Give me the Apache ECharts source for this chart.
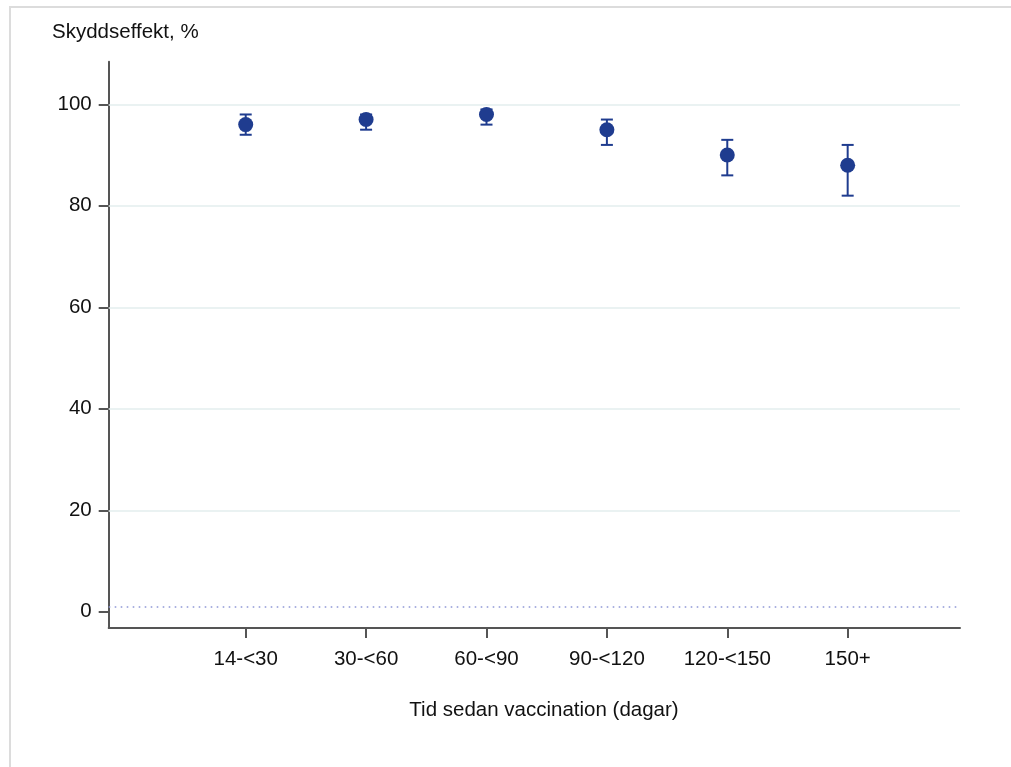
<!DOCTYPE html>
<html>
<head>
<meta charset="utf-8">
<script src="https://cdn.jsdelivr.net/npm/echarts@6/dist/echarts.min.js"></script>
<style>
html,body{margin:0;padding:0;background:#fff;}
#chart{width:1011px;height:767px;}
</style>
</head>
<body>
<div id="chart"></div>
<script>
const categories = ['14-<30', '30-<60', '60-<90', '90-<120', '120-<150', '150+'];
const effect = [96, 97, 98, 95, 90, 88];
const ciLower = [94, 95, 96, 92, 86, 82];
const ciUpper = [98, 98, 99, 97, 93, 92];
const yTicks = [0, 20, 40, 60, 80, 100];
const refLineValue = 1;
const yTitle = 'Skyddseffekt, %';
const xTitle = 'Tid sedan vaccination (dagar)';

const xPos = categories.map((c, i) => i + 1);
const FONT = 'Liberation Sans, Arial, sans-serif';
const MARK = '#1f3c8f';
const TXT = '#111111';

const chart = echarts.init(document.getElementById('chart'), null, {renderer: 'canvas'});

const pointData = effect.map((v, i) => [xPos[i], v]);
const errData = effect.map((v, i) => [xPos[i], ciLower[i], ciUpper[i]]);

const option = {
  animation: false,
  backgroundColor: '#ffffff',
  grid: {left: 108.7, right: 51, top: 61.7, bottom: 139, containLabel: false},
  graphic: [
    {type: 'rect', shape: {x: 10, y: 7, width: 1200, height: 900},
     style: {fill: 'none', stroke: '#dcdcdc', lineWidth: 2}, silent: true, z: -10},
    {type: 'text', left: 52, top: 22,
     style: {text: yTitle, font: '20.5px ' + FONT, fill: TXT}},
    {type: 'text', x: 544, y: 710,
     style: {text: xTitle, font: '20.5px ' + FONT, fill: TXT, align: 'center', verticalAlign: 'middle'}}
  ],
  xAxis: {
    type: 'value', min: -0.138, max: 6.933,
    axisLine: {show: true, onZero: false, lineStyle: {color: '#555', width: 2}},
    axisTick: {show: true, customValues: xPos, length: 10, lineStyle: {color: '#555', width: 2}},
    axisLabel: {customValues: xPos, formatter: v => categories[Math.round(v) - 1] || '',
                margin: 21, fontSize: 20.5, fontFamily: FONT, color: TXT},
    splitLine: {show: false}
  },
  yAxis: {
    type: 'value', min: -3.2, max: 108.4,
    axisLine: {show: true, onZero: false, lineStyle: {color: '#555', width: 2}},
    axisTick: {show: true, customValues: yTicks, length: 10, lineStyle: {color: '#555', width: 2}},
    axisLabel: {customValues: yTicks, margin: 17, fontSize: 20.5, fontFamily: FONT, color: TXT},
    splitLine: {show: false}
  },
  series: [
    {
      type: 'line', data: [], silent: true,
      markLine: {
        silent: true, symbol: 'none', label: {show: false}, animation: false,
        data: yTicks.filter(t => t > 0).map(t => ({yAxis: t, lineStyle: {color: '#e3eeee', width: 1.6, type: 'solid'}}))
          .concat([{yAxis: refLineValue, lineStyle: {color: '#8e98d6', width: 1.6, type: [1.6, 4.4]}}])
      }
    },
    {
      type: 'custom', data: errData, z: 3,
      renderItem: function (params, api) {
        const x = api.value(0);
        const lo = api.coord([x, api.value(1)]);
        const hi = api.coord([x, api.value(2)]);
        const hw = 6;
        const st = {stroke: MARK, lineWidth: 2};
        return {type: 'group', children: [
          {type: 'line', shape: {x1: lo[0], y1: lo[1], x2: hi[0], y2: hi[1]}, style: st},
          {type: 'line', shape: {x1: lo[0] - hw, y1: lo[1], x2: lo[0] + hw, y2: lo[1]}, style: st},
          {type: 'line', shape: {x1: hi[0] - hw, y1: hi[1], x2: hi[0] + hw, y2: hi[1]}, style: st}
        ]};
      }
    },
    {
      type: 'scatter', data: pointData, symbol: 'circle', symbolSize: 15, z: 4,
      itemStyle: {color: MARK, opacity: 1}
    }
  ]
};
chart.setOption(option);
</script>
</body>
</html>
